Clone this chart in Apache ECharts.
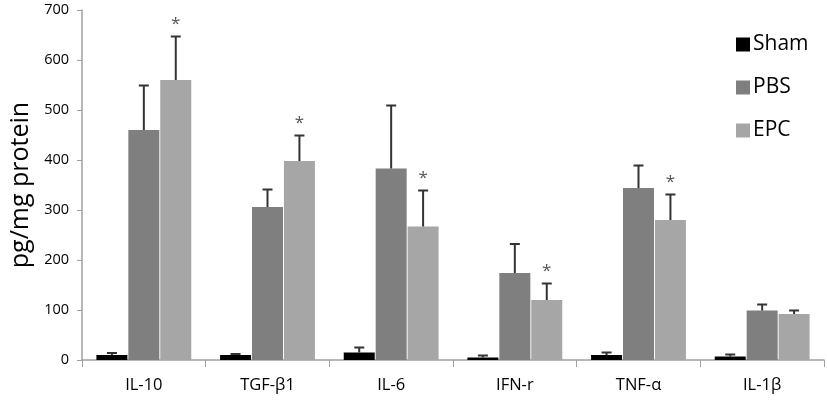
<!DOCTYPE html>
<html>
<head>
<meta charset="utf-8">
<script src="https://cdn.jsdelivr.net/npm/echarts@6/dist/echarts.min.js"></script>
<style>
html,body{margin:0;padding:0;background:#fff;}
#chart{width:827px;height:400px;}
</style>
</head>
<body>
<div id="chart"></div>
<script>
// ---- data ----
var categories = ['IL-10', 'TGF-β1', 'IL-6', 'IFN-r', 'TNF-α', 'IL-1β'];
var seriesNames = ['Sham', 'PBS', 'EPC'];
var sham = [10, 10, 15, 5, 10, 7];
var pbs = [460, 306, 383, 174, 344, 99];
var epc = [560, 398, 267, 120, 280, 92];
// upper error (SD) above the mean
var shamErr = [4, 2, 10, 4, 5, 4];
var pbsErr = [89, 35, 126, 58, 45, 12];
var epcErr = [87, 51, 72, 33, 51, 7];
// significance marker over EPC bars
var epcStar = [true, true, true, true, true, false];
var yTicks = [0, 100, 200, 300, 400, 500, 600, 700];

// ---- style ----
var colors = ['#000000', '#7f7f7f', '#a6a6a6'];
var BAR_W = 31;
var BAR_GAP = 0.03;
var FONT = '"Open Sans", "DejaVu Sans", sans-serif';

var values = [sham, pbs, epc];
var errs = [shamErr, pbsErr, epcErr];

var chart = echarts.init(document.getElementById('chart'));

function errSeries(si) {
  var data = categories.map(function (c, i) {
    return [i, values[si][i], values[si][i] + errs[si][i], (si === 2 && epcStar[i]) ? 1 : 0];
  });
  return {
    type: 'custom',
    name: seriesNames[si] + ' err',
    data: data,
    z: 10,
    silent: true,
    encode: { x: 0, y: [1, 2] },
    renderItem: function (params, api) {
      var idx = api.value(0);
      var offset = (si - 1) * BAR_W * (1 + BAR_GAP);
      var base = api.coord([idx, api.value(1)]);
      var top = api.coord([idx, api.value(2)]);
      var x = base[0] + offset;
      var children = [
        { type: 'line', shape: { x1: x, y1: base[1], x2: x, y2: top[1] },
          style: { stroke: '#333333', lineWidth: 2 } },
        { type: 'line', shape: { x1: x - 5, y1: top[1], x2: x + 5, y2: top[1] },
          style: { stroke: '#333333', lineWidth: 2 } }
      ];
      if (api.value(3) === 1) {
        children.push({ type: 'text', x: x, y: top[1] - 12,
          style: { text: '*', fill: '#555555', font: '17px ' + FONT, align: 'center', verticalAlign: 'middle' } });
      }
      return { type: 'group', children: children };
    }
  };
}

var barSeries = seriesNames.map(function (n, si) {
  return {
    type: 'bar',
    name: n,
    data: values[si],
    barWidth: BAR_W,
    barGap: (BAR_GAP * 100) + '%',
    itemStyle: { color: colors[si] },
    emphasis: { disabled: true }
  };
});

chart.setOption({
  animation: false,
  textStyle: { fontFamily: FONT },
  color: colors,
  grid: { left: 69, right: 3, top: 10, bottom: 40, containLabel: false },
  legend: {
    data: seriesNames,
    orient: 'vertical',
    left: 731,
    top: 29,
    itemWidth: 14,
    itemHeight: 14,
    itemGap: 22,
    textStyle: { fontSize: 21, color: '#000', fontFamily: FONT, padding: [0, 0, 0, -2] },
    icon: 'rect'
  },
  xAxis: {
    type: 'category',
    data: categories,
    axisLine: { lineStyle: { color: '#a0a0a0', width: 1.5 } },
    axisTick: { show: true, alignWithLabel: false, length: 7, lineStyle: { color: '#a0a0a0' } },
    axisLabel: { fontSize: 16.5, color: '#000', margin: 17, fontFamily: FONT }
  },
  yAxis: {
    type: 'value',
    min: yTicks[0],
    max: yTicks[yTicks.length - 1],
    interval: yTicks[1] - yTicks[0],
    name: 'pg/mg protein',
    nameLocation: 'middle',
    nameGap: 49,
    nameRotate: 90,
    nameTextStyle: { fontSize: 25, color: '#000', fontFamily: FONT },
    splitLine: { show: false },
    axisLine: { show: true, lineStyle: { color: '#a0a0a0', width: 1.5 } },
    axisTick: { show: true, length: 5, lineStyle: { color: '#a0a0a0' } },
    axisLabel: { fontSize: 14.5, color: '#000', margin: 13, fontFamily: FONT }
  },
  series: barSeries.concat([errSeries(0), errSeries(1), errSeries(2)])
});
</script>
</body>
</html>
